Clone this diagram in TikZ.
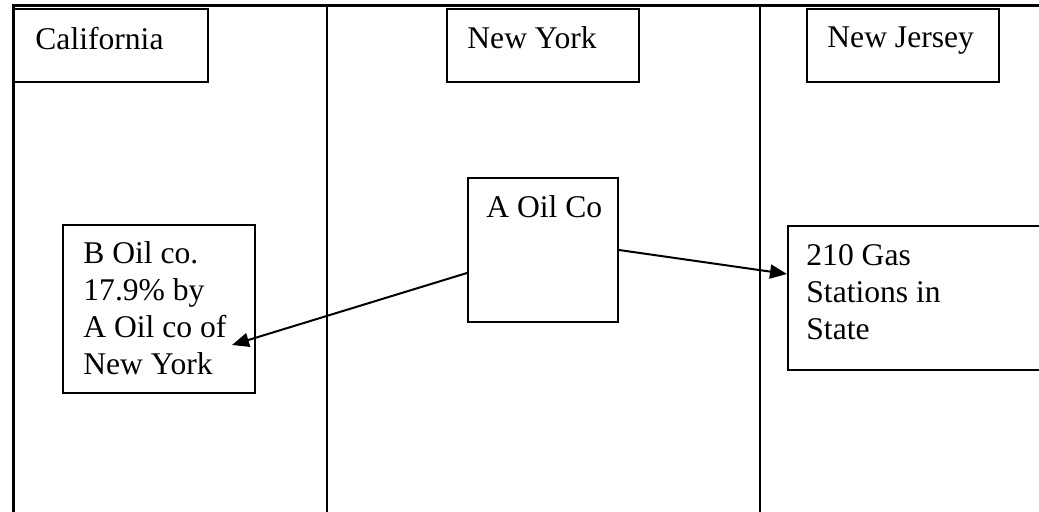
\documentclass[tikz,border=0pt]{standalone}
\usepackage{fontspec}
\setmainfont{Liberation Serif}
\usetikzlibrary{arrows.meta}
\usetikzlibrary{positioning}

\begin{document}
\begin{tikzpicture}[x=0.5pt,y=-0.5pt,
  box/.style={draw,line width=1pt,inner sep=0,anchor=north west},
  lbl/.style={inner sep=0,anchor=north west,align=left,font=\fontsize{15.8}{18.5}\selectfont},
  conn/.style={line width=1pt,-{Triangle[length=8.5pt,width=7pt]}}]
\useasboundingbox (0,0) rectangle (1039,512);
\coordinate (o) at (13,6);
\coordinate (ox) at (1039,6);
\coordinate (oy) at (13,512);
\coordinate (s1) at (327,6);
\coordinate (s2) at (760,6);
\draw[line width=1.5pt] (oy) -- (o) -- (ox);
\draw[line width=1.2pt] (s1) -- (s1 |- oy);
\draw[line width=1.2pt] (s2) -- (s2 |- oy);
\node[box,minimum width=97pt,minimum height=36.5pt] (cal) at (13,8) {};
\node[box,minimum width=96pt,minimum height=36.5pt] (ny) at (446,8) {};
\node[box,minimum width=96pt,minimum height=36.5pt] (nj) at (806,8) {};
\node[box,minimum width=96pt,minimum height=84pt] (boil) at (62,224) {};
\node[box,minimum width=75pt,minimum height=72pt] (aoil) at (467,177) {};
\node[box,minimum width=150pt,minimum height=72pt] (gas) at (787,225) {};
\node[lbl] (calt) at (35,26.5) {California};
\node[lbl] (nyt) at (467,26.5) {New York};
\node[lbl] (njt) at (827,26.5) {New Jersey};
\node[lbl] (aoilt) at (486,195.5) {A Oil Co};
\node[lbl] (boilt) at (83,241.5) {B Oil co.\\17.9\% by\\A Oil co of\\New York};
\node[lbl] (gast) at (806,243.6) {210 Gas\\Stations in\\State};
\coordinate (btip) at (232,345);
\draw[conn] ([yshift=-11.5pt]aoil.west) -- (btip);
\draw[conn] (aoil.east) -- ([yshift=12pt]gas.west);
\end{tikzpicture}
\end{document}
